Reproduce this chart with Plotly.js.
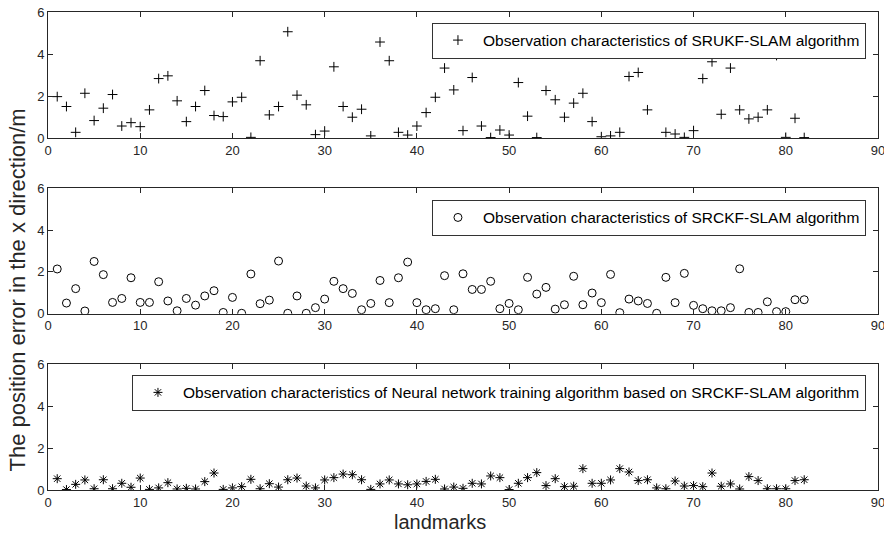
<!DOCTYPE html>
<html>
<head>
<meta charset="utf-8">
<script src="https://cdn.plot.ly/plotly-3.0.1.min.js"></script>
<style>html,body{margin:0;padding:0;background:#fff;}#chart{width:884px;height:540px;}</style>
</head>
<body>
<div id="chart"></div>
<script>
const landmarks = [1,2,3,4,5,6,7,8,9,10,11,12,13,14,15,16,17,18,19,20,21,22,23,24,25,26,27,28,29,30,31,32,33,34,35,36,37,38,39,40,41,42,43,44,45,46,47,48,49,50,51,52,53,54,55,56,57,58,59,60,61,62,63,64,65,66,67,68,69,70,71,72,73,74,75,76,77,78,79,80,81,82];

const srukfErr = [1.97,1.50,0.27,2.13,0.83,1.42,2.07,0.57,0.73,0.54,
  1.34,2.83,2.96,1.77,0.78,1.50,2.26,1.07,1.02,1.72,
  1.94,0.03,3.68,1.10,1.50,5.06,2.04,1.58,0.16,0.33,
  3.39,1.50,0.99,1.37,0.10,4.57,3.68,0.27,0.14,0.57,
  1.21,1.94,3.33,2.29,0.35,2.88,0.57,0.02,0.38,0.14,
  2.64,1.04,0.02,2.26,1.82,0.99,1.66,2.13,0.78,0.06,
  0.10,0.27,2.93,3.12,1.34,null,0.27,0.19,0.03,0.35,
  2.83,3.63,1.13,3.33,1.34,0.91,0.99,1.34,3.93,0.03,
  0.94,0.02];

const srckfErr = [2.14,0.51,1.20,0.13,2.50,1.87,0.54,0.73,1.72,0.54,
  0.54,1.53,0.61,0.14,0.73,0.41,0.85,1.10,0.06,0.78,
  0.02,1.90,0.48,0.65,2.52,0.02,0.85,0.02,0.29,0.70,
  1.55,1.20,0.97,0.19,0.49,1.59,0.53,1.72,2.47,0.53,
  0.19,0.24,1.82,0.19,1.91,1.16,1.16,1.55,0.24,0.49,
  0.19,1.74,0.94,1.26,0.22,0.43,1.79,0.43,0.99,0.53,
  1.88,0.05,0.70,0.61,0.49,0.02,1.74,0.53,1.93,0.40,
  0.24,0.14,0.14,0.29,2.15,0.06,0.06,0.57,0.10,0.10,
  0.67,0.67];

const nnErr = [0.54,0.02,0.27,0.48,0.06,0.49,0.06,0.32,0.13,0.57,
  0.03,0.10,0.35,0.05,0.08,0.05,0.40,0.81,0.03,0.10,
  0.16,0.51,0.06,0.30,0.14,0.49,0.57,0.19,0.10,0.48,
  0.59,0.76,0.73,0.49,0.03,0.29,0.48,0.29,0.25,0.29,
  0.41,0.51,0.05,0.14,0.08,0.32,0.29,0.67,0.59,0.02,
  0.32,0.59,0.83,0.21,0.54,0.16,0.18,1.02,0.32,0.32,
  0.48,1.02,0.86,0.45,0.49,0.10,0.06,0.43,0.19,0.21,
  0.16,0.81,0.18,0.29,0.05,0.64,0.45,0.06,0.06,0.06,
  0.45,0.49];

const seriesNames = [
  "Observation characteristics of SRUKF-SLAM algorithm",
  "Observation characteristics of SRCKF-SLAM algorithm",
  "Observation characteristics of Neural network training algorithm based on SRCKF-SLAM algorithm"
];
const xTickVals = [0,10,20,30,40,50,60,70,80,90];
const yTickVals = [0,2,4,6];
const xTitle = "landmarks";
const yTitle = "The position error in the x direction/m";

const FONT = "Liberation Sans, Arial, sans-serif";
const AX = "#262626";

const traces = [
  {x: landmarks, y: srukfErr, name: seriesNames[0], type: "scatter", mode: "markers",
   xaxis: "x", yaxis: "y", legend: "legend",
   marker: {symbol: "cross-thin-open", size: 7, color: "#000", line: {color: "#000", width: 1}}},
  {x: landmarks, y: srckfErr, name: seriesNames[1], type: "scatter", mode: "markers",
   xaxis: "x2", yaxis: "y2", legend: "legend2",
   marker: {symbol: "circle-open", size: 8, color: "#000", line: {color: "#000", width: 1}}},
  {x: landmarks, y: nnErr, name: seriesNames[2], type: "scatter", mode: "markers",
   xaxis: "x3", yaxis: "y3", legend: "legend3",
   marker: {symbol: "asterisk-open", size: 7.5, color: "#000", line: {color: "#000", width: 1}}}
];

function xAxis(anchor) {
  return {anchor: anchor, domain: [0, 1], range: [0, 90], tickvals: xTickVals,
    ticks: "inside", ticklen: 5, tickcolor: AX, showline: true, linecolor: AX, linewidth: 1,
    mirror: "ticks", showgrid: false, zeroline: false, ticklabeloverflow: "allow",
    tickfont: {family: FONT, size: 13, color: AX}};
}
function yAxis(anchor, domain) {
  return {anchor: anchor, domain: domain, range: [0, 6], tickvals: yTickVals,
    ticks: "inside", ticklen: 5, tickcolor: AX, showline: true, linecolor: AX, linewidth: 1,
    mirror: "ticks", showgrid: false, zeroline: false, ticklabeloverflow: "allow",
    tickfont: {family: FONT, size: 13, color: AX}};
}
function legendBox(x, y) {
  return {x: x, y: y, xref: "paper", yref: "paper", xanchor: "right", yanchor: "top",
    bgcolor: "#fff", bordercolor: "#333", borderwidth: 1,
    font: {family: FONT, size: 15.5, color: "#000"}, itemwidth: 40};
}

const layout = {
  width: 884, height: 540,
  margin: {l: 48, r: 6, t: 12, b: 50},
  paper_bgcolor: "#fff", plot_bgcolor: "#fff",
  font: {family: FONT, color: AX},
  showlegend: true,
  xaxis: xAxis("y"),
  yaxis: yAxis("x", [0.7364, 1.0]),
  xaxis2: xAxis("y2"),
  yaxis2: yAxis("x2", [0.3688, 0.6312]),
  xaxis3: xAxis("y3"),
  yaxis3: yAxis("x3", [0.0, 0.263]),
  legend: legendBox(0.9855, 0.978),
  legend2: legendBox(0.9855, 0.607),
  legend3: legendBox(0.9855, 0.241),
  annotations: [
    {text: xTitle, xref: "paper", yref: "paper", x: 0.4723, y: -0.067,
     xanchor: "center", yanchor: "middle", showarrow: false,
     font: {family: FONT, size: 20, color: AX}},
    {text: yTitle, xref: "paper", yref: "paper", x: -0.037, y: 0.418,
     xanchor: "center", yanchor: "middle", showarrow: false, textangle: -90,
     font: {family: FONT, size: 22, color: AX}}
  ]
};

Plotly.newPlot("chart", traces, layout, {displayModeBar: false, staticPlot: true});
</script>
</body>
</html>
